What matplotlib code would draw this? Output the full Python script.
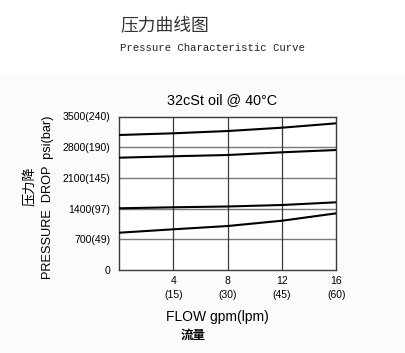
import matplotlib
matplotlib.use("Agg")
import matplotlib.pyplot as plt
from matplotlib.patches import Rectangle

# ---- data ----
flow_gpm = [0, 4, 8, 12, 16]
curve_a = [3078, 3117, 3169, 3245, 3345]
curve_b = [2561, 2593, 2622, 2684, 2736]
curve_c = [1407, 1430, 1448, 1482, 1544]
curve_d = [850, 928, 1003, 1124, 1293]
x_ticks = [4, 8, 12, 16]
x_tick_labels = ["4\n(15)", "8\n(30)", "12\n(45)", "16\n(60)"]
y_ticks = [0, 700, 1400, 2100, 2800, 3500]
y_tick_labels = ["0", "700(49)", "1400(97)", "2100(145)", "2800(190)", "3500(240)"]

W, H = 406, 353
fig = plt.figure(figsize=(W / 100, H / 100), dpi=100)
fig.patch.set_facecolor("white")
bg = Rectangle((0, 0), 1, (H - 74) / H, transform=fig.transFigure,
               facecolor="#fbfbfb", edgecolor="none", zorder=-10)
fig.add_artist(bg)

ax = fig.add_axes([119 / W, (H - 270) / H, 217.5 / W, 153.5 / H])
ax.set_zorder(5)
ax.set_facecolor("white")
ax.set_xlim(0, 16)
ax.set_ylim(0, 3500)

for yv in [700, 1400, 2100, 2800]:
    ax.axhline(yv, color="#7a7a7a", lw=1.0, zorder=1)
for xv in [4, 8, 12]:
    ax.axvline(xv, color="#3a3a3a", lw=0.9, zorder=1)

for c in [curve_a, curve_b, curve_c, curve_d]:
    ax.plot(flow_gpm, c, color="black", lw=1.5, zorder=3)

for s in ax.spines.values():
    s.set_color("#3a3a3a")
    s.set_linewidth(1.0)

ax.set_xticks(x_ticks)
ax.set_xticklabels(x_tick_labels, fontsize=7.5, family="Liberation Sans", linespacing=1.6)
ax.set_yticks(y_ticks)
ax.set_yticklabels(y_tick_labels, fontsize=7.6, family="Liberation Sans")
ax.tick_params(length=0, pad=6)
ax.tick_params(axis="x", pad=4)

fig.text(120 / W, 1 - 25 / H, "压力曲线图", family=["Noto Sans CJK SC", "DejaVu Sans"],
         fontsize=12.8, color="#333333", va="center", ha="left", zorder=6)
fig.text(120 / W, 1 - 48 / H, "Pressure Characteristic Curve", family="Liberation Mono",
         fontsize=7.65, color="#222222", va="center", ha="left", zorder=6)
fig.text(222 / W, 1 - 100 / H, "32cSt oil @ 40°C", family="Liberation Sans",
         fontsize=10.4, color="black", va="center", ha="center", zorder=6)
fig.text(217 / W, 1 - 317 / H, "FLOW gpm(lpm)", family="Liberation Sans",
         fontsize=10, color="black", va="center", ha="center", zorder=6)
fig.text(193 / W, 1 - 335 / H, "流量", family=["Noto Sans CJK SC", "DejaVu Sans"],
         fontsize=9, color="black", va="center", ha="center", weight="bold", zorder=6)
fig.text(48 / W, 1 - 197 / H, "PRESSURE  DROP  psi(bar)", family="Liberation Sans",
         fontsize=9.2, color="black", va="center", ha="center", rotation=90, zorder=6)
fig.text(31 / W, 1 - 186 / H, "压力降", family=["Noto Sans CJK SC", "DejaVu Sans"],
         fontsize=9.5, color="black", va="center", ha="center", rotation=90, zorder=6)

fig.savefig("out.png", dpi=100)
